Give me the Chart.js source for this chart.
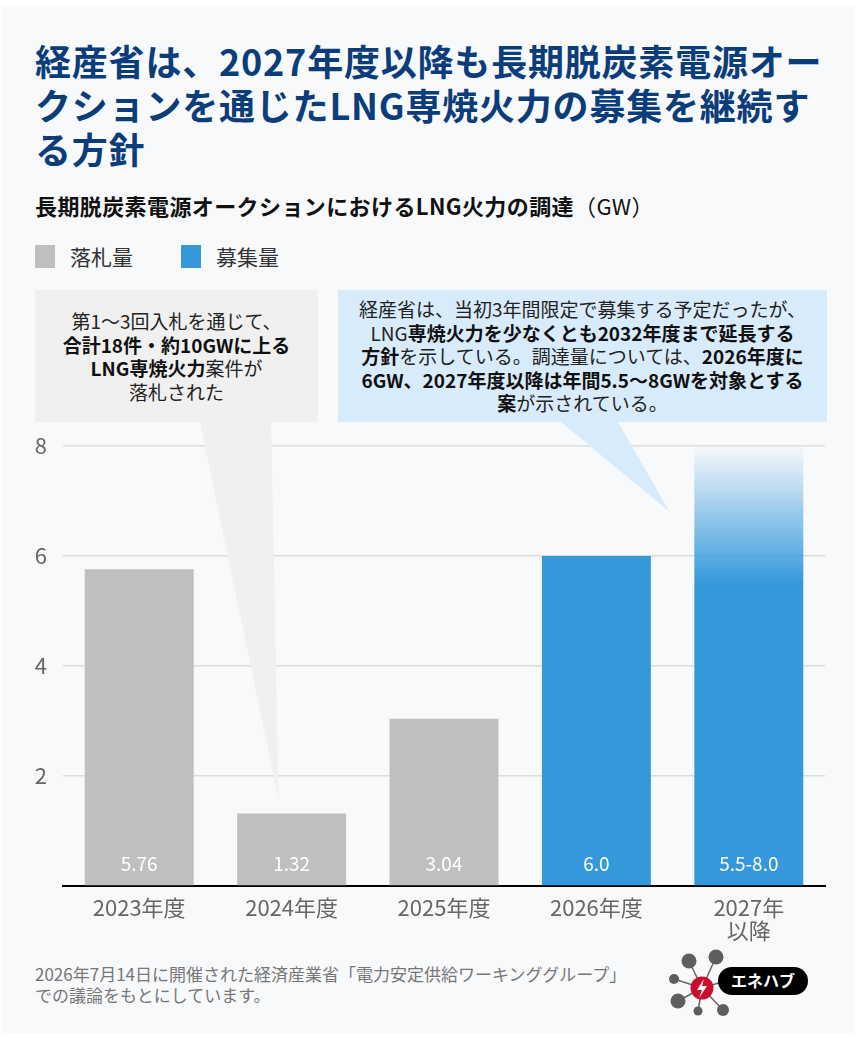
<!DOCTYPE html>
<html lang="ja">
<head>
<meta charset="UTF-8">
<title>LNG火力の調達</title>
<script src="https://cdn.jsdelivr.net/npm/chart.js"></script>
<style>
  body { margin: 0; background: #fff; font-family: "Noto Sans CJK JP", "Noto Sans", sans-serif; }
  .panel { position: absolute; left: 1px; top: 6px; width: 854px; height: 1027px; background: #f8f9fb; }
  .title { position: absolute; left: 35px; top: 38px; margin: 0; font-size: 36px; line-height: 44px; font-weight: 700; color: #0b3d7a; white-space: nowrap; letter-spacing: 0.8px; }
  .subtitle { position: absolute; left: 35px; top: 189px; font-size: 22px; color: #111; white-space: nowrap; letter-spacing: 0.4px; }
  .subtitle b { font-weight: 700; }
  .legend { position: absolute; left: 35px; top: 241px; font-size: 21px; color: #333; display: flex; align-items: center; }
  .legend span.sw { display: inline-block; width: 20px; height: 23px; margin-right: 15px; }
  .legend .item { display: flex; align-items: center; margin-right: 48px; }
  .box { position: absolute; display: flex; align-items: center; justify-content: center; text-align: center; font-size: 19px; line-height: 23.5px; color: #222; white-space: nowrap; z-index: 2; }
  .box b { font-weight: 700; color: #111; }
  #box1 { left: 35px; top: 290px; width: 283px; height: 132px; background: #f0f0f0; }
  #box2 { left: 338px; top: 290px; width: 489px; height: 132px; background: #d8ebfb; }
  #chartWrap { position: absolute; left: 0; top: 280px; width: 858px; height: 680px; z-index: 1; }
  .note { position: absolute; left: 35px; top: 963px; font-size: 17px; line-height: 21px; color: #777; white-space: nowrap; }
  .logo { position: absolute; left: 660px; top: 945px; }
</style>
</head>
<body>
<div class="panel"></div>

<h1 class="title">経産省は、2027年度以降も長期脱炭素電源オー<br>クションを通じたLNG専焼火力の募集を継続す<br>る方針</h1>

<div class="subtitle"><b>長期脱炭素電源オークションにおけるLNG火力の調達</b>（GW）</div>

<div class="legend">
  <div class="item"><span class="sw" style="background:#bfbfbf"></span>落札量</div>
  <div class="item"><span class="sw" style="background:#3598db"></span>募集量</div>
</div>

<div class="box" id="box1"><div>第1〜3回入札を通じて、<br><b>合計18件・約10GWに上る</b><br><b>LNG専焼火力</b>案件が<br>落札された</div></div>
<div class="box" id="box2"><div>経産省は、当初3年間限定で募集する予定だったが、<br>LNG<b>専焼火力を少なくとも2032年度まで延長する</b><br><b>方針</b>を示している。調達量については、<b>2026年度に</b><br><b>6GW、2027年度以降は年間5.5〜8GWを対象とする</b><br><b>案</b>が示されている。</div></div>

<div id="chartWrap"><canvas id="grafico" width="858" height="680"></canvas></div>

<div class="note">2026年7月14日に開催された経済産業省「電力安定供給ワーキンググループ」<br>での議論をもとにしています。</div>

<!-- logo -->
<svg class="logo" width="160" height="80" viewBox="660 945 160 80">
  <g stroke="#666" stroke-width="1.5">
    <line x1="702" y1="988" x2="689" y2="961"/>
    <line x1="702" y1="988" x2="716" y2="957"/>
    <line x1="702" y1="988" x2="674" y2="979"/>
    <line x1="702" y1="988" x2="678" y2="1001"/>
    <line x1="702" y1="988" x2="698" y2="1011"/>
    <line x1="702" y1="988" x2="723" y2="1010"/>
    <line x1="702" y1="988" x2="722" y2="982"/>
  </g>
  <g fill="#5e5e5e">
    <circle cx="689" cy="961" r="7.5"/>
    <circle cx="716" cy="957" r="7.5"/>
    <circle cx="674" cy="979" r="5"/>
    <circle cx="678" cy="1001" r="7.5"/>
    <circle cx="698" cy="1011" r="4.5"/>
    <circle cx="723" cy="1010" r="6"/>
  </g>
  <circle cx="702" cy="988" r="11.5" fill="#c8102e"/>
  <path d="M704 979 L697 990 L702 990 L699 998 L707 986 L702 986 Z" fill="#fff"/>
  <rect x="718" y="967" width="90" height="28" rx="14" fill="#000"/>
  <text x="763" y="987" text-anchor="middle" fill="#fff" font-size="16" font-weight="700" font-family="Noto Sans CJK JP">エネハブ</text>
</svg>

<script>
  // dados (GW)
  var categorias = [['2023年度'], ['2024年度'], ['2025年度'], ['2026年度'], ['2027年', '以降']];
  var rakusatsu = [5.76, 1.32, 3.04, null, null];   // 落札量
  var boshu = [null, null, null, 6.0, 8.0];          // 募集量 (上限)
  var boshuMin = [null, null, null, null, 5.5];      // 募集量 (下限, 2027年以降)
  var rotulos = ['5.76', '1.32', '3.04', '6.0', '5.5-8.0'];
  var yTicks = [0, 2, 4, 6, 8];

  var CINZA = '#bfbfbf';
  var AZUL = '#3598db';

  // caudas das caixas de anotação (coordenadas do canvas)
  var caudaCinza = { x1: 200, x2: 271, y: 142, idx: 1, dx: -13, val: 1.56, cor: '#f0f0f0' };
  var caudaAzul = { x1: 561, x2: 618, y: 142, idx: 4, dx: -79, val: 6.8, cor: '#d8ebfb' };

  function corBoshu(ctx) {
    var i = ctx.dataIndex;
    var chart = ctx.chart;
    if (boshuMin[i] == null || !chart.chartArea) return AZUL;
    var y = chart.scales.y;
    var g = chart.ctx.createLinearGradient(0, y.getPixelForValue(boshu[i]), 0, y.getPixelForValue(boshuMin[i]));
    g.addColorStop(0, 'rgba(53,152,219,0)');
    g.addColorStop(0.08, 'rgba(53,152,219,0.08)');
    g.addColorStop(1, 'rgba(53,152,219,1)');
    return g;
  }

  var caudas = {
    id: 'caudas',
    beforeDatasetsDraw: function (chart) {
      var c = chart.ctx;
      [caudaCinza, caudaAzul].forEach(function (t) {
        var tx = chart.scales.x.getPixelForValue(t.idx) + t.dx;
        var ty = chart.scales.y.getPixelForValue(t.val);
        c.save();
        c.fillStyle = t.cor;
        c.beginPath();
        c.moveTo(t.x1, t.y);
        c.lineTo(t.x2, t.y);
        c.lineTo(tx, ty);
        c.closePath();
        c.fill();
        c.restore();
      });
    }
  };

  var valores = {
    id: 'valores',
    afterDatasetsDraw: function (chart) {
      var c = chart.ctx;
      var base = chart.scales.y.getPixelForValue(0);
      c.save();
      c.fillStyle = '#fff';
      c.font = '19px "Noto Sans CJK JP"';
      c.textAlign = 'center';
      c.textBaseline = 'middle';
      chart.data.datasets.forEach(function (ds, d) {
        chart.getDatasetMeta(d).data.forEach(function (el, i) {
          if (ds.data[i] == null) return;
          c.fillText(rotulos[i], el.x, base - 22);
        });
      });
      c.restore();
    }
  };

  new Chart(document.getElementById('grafico'), {
    type: 'bar',
    data: {
      labels: categorias,
      datasets: [
        { label: '落札量', data: rakusatsu, backgroundColor: CINZA },
        { label: '募集量', data: boshu, backgroundColor: corBoshu }
      ]
    },
    options: {
      responsive: false,
      animation: false,
      layout: { padding: { top: 166, right: 33, left: 0, bottom: 0 } },
      datasets: { bar: { barPercentage: 0.715, categoryPercentage: 1 } },
      plugins: { legend: { display: false }, tooltip: { enabled: false } },
      scales: {
        x: {
          stacked: true,
          grid: { display: false, drawTicks: false },
          border: { display: true, color: '#000', width: 2 },
          ticks: { color: '#666', font: { size: 22, family: 'Noto Sans CJK JP', lineHeight: 1.05 }, padding: 10, maxRotation: 0 },
          afterFit: function (s) { s.height = 74; }
        },
        y: {
          stacked: true,
          min: 0,
          max: 8,
          afterBuildTicks: function (s) { s.ticks = yTicks.map(function (v) { return { value: v }; }); },
          grid: { color: '#dcdcdc', lineWidth: 1.5, drawTicks: false },
          border: { display: false },
          ticks: {
            color: '#666',
            font: { size: 22, family: 'Noto Sans CJK JP' },
            padding: 16,
            callback: function (v) { return v === 0 ? '' : v; }
          },
          afterFit: function (s) { s.width = 63; }
        }
      }
    },
    plugins: [caudas, valores]
  });
</script>
</body>
</html>
